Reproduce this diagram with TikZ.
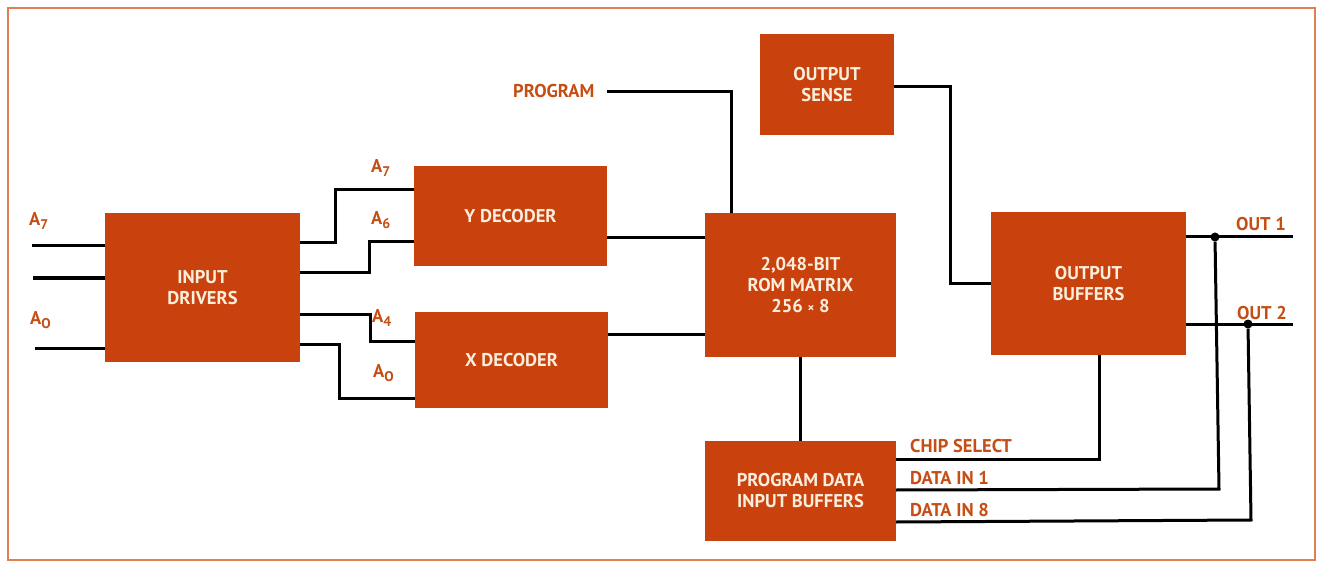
\documentclass[tikz,border=0pt]{standalone}
\usepackage{fontspec}
\setmainfont{PT Sans}
\definecolor{boxc}{RGB}{201,66,14}
\definecolor{labc}{RGB}{196,78,20}
\definecolor{framec}{RGB}{222,128,80}
\definecolor{txtc}{RGB}{252,238,220}
\newcommand{\mysub}[1]{\raisebox{-4pt}{\fontsize{14}{14}\selectfont #1}}
\tikzset{
  box/.style={fill=boxc, draw=none, text=txtc, font=\fontsize{18.5}{21}\selectfont\bfseries, align=center, inner sep=0pt},
  lab/.style={text=labc, font=\fontsize{18.5}{21}\selectfont\bfseries, inner sep=0pt, anchor=west},
  wire/.style={draw=black, line width=3pt, line join=miter},
  dot/.style={circle, fill=black, inner sep=0pt, minimum size=9pt}
}
\begin{document}
\begin{tikzpicture}[x=1pt,y=-1pt]
\useasboundingbox (0,0) rectangle (1323,564);
\draw[framec, line width=2pt] (8,8) rectangle (1315,560);

% boxes
\node[box, minimum width=195pt, minimum height=149pt] (drv) at (202.5,287.5) {INPUT\\DRIVERS};
\node[box, minimum width=193pt, minimum height=100pt] (yd) at (510.5,216) {Y DECODER};
\node[box, minimum width=193pt, minimum height=96pt] (xd) at (511.5,360) {X DECODER};
\node[box, minimum width=191pt, minimum height=144pt] (rom) at (800.5,285) {2,048-BIT\\ROM MATRIX\\256 {\fontsize{13}{13}\selectfont ×} 8};
\node[box, minimum width=134pt, minimum height=101pt] (os) at (827,84.5) {OUTPUT\\SENSE};
\node[box, minimum width=195pt, minimum height=143pt] (ob) at (1088.5,283.5) {OUTPUT\\BUFFERS};
\node[box, minimum width=191pt, minimum height=100pt] (pd) at (800.5,491) {PROGRAM DATA\\INPUT BUFFERS};

% helper coordinates
\coordinate (i1) at (32,246);
\coordinate (i2) at (33,278);
\coordinate (i3) at (35,348);
\coordinate (r1) at (0,243);
\coordinate (r2) at (0,273);
\coordinate (r3) at (0,314);
\coordinate (r4) at (0,344);
\coordinate (ya) at (0,190);
\coordinate (yb) at (0,242);
\coordinate (xa) at (0,341);
\coordinate (xb) at (0,398);
\coordinate (romy) at (0,238);
\coordinate (romx) at (0,334);
\coordinate (prg) at (607,92);
\coordinate (o1) at (1293,237);
\coordinate (o2) at (1293,324);
\coordinate (cs) at (0,459);
\coordinate (d1) at (0,490);
\coordinate (d8) at (0,522);

% inputs
\draw[wire] (i1) -- (i1 -| drv.west);
\draw[wire] (i2) -- (i2 -| drv.west);
\draw[wire] (i3) -- (i3 -| drv.west);

% driver to decoders
\draw[wire] (drv.east |- r1) -- (335,243) -- (335,190) -- (yd.west |- ya);
\draw[wire] (drv.east |- r2) -- (369,273) -- (369,242) -- (yd.west |- yb);
\draw[wire] (drv.east |- r3) -- (370,314) -- (370,341) -- (xd.west |- xa);
\draw[wire] (drv.east |- r4) -- (339,344) -- (339,398) -- (xd.west |- xb);

% decoders to ROM
\draw[wire] (yd.east |- romy) -- (rom.west |- romy);
\draw[wire] (xd.east |- romx) -- (rom.west |- romx);

% program
\draw[wire] (prg) -- (731,92) -- (731,213) -- (rom.north -| 731,0);

% ROM to program data buffers
\draw[wire] (rom.south) -- (pd.north);

% output sense to output buffers
\draw[wire] (os.east |- 0,87) -- (950,87) -- (950,283) -- (ob.west |- 0,283);

% outputs
\draw[wire] (ob.east |- o1) -- (o1);
\draw[wire] (ob.east |- o2) -- (o2);
\node[dot] (n1) at (1215,237) {};
\node[dot] (n2) at (1248,324) {};

% chip select and data in
\draw[wire] (pd.east |- cs) -- (1099,459) -- (ob.south -| 1099,0);
\draw[wire] (pd.east |- d1) -- (1219,489) -- (n1);
\draw[wire] (pd.east |- d8) -- (1251,520) -- (n2);

% labels
\node[lab] (la7) at (29,221) {A\mysub{7}};
\node[lab] (la0) at (30,320) {A\mysub{O}};
\node[lab] (lya7) at (371,168) {A\mysub{7}};
\node[lab] (lya6) at (371,220) {A\mysub{6}};
\node[lab] (lxa4) at (372,318) {A\mysub{4}};
\node[lab] (lxa0) at (373,373) {A\mysub{O}};
\node[lab] (lprg) at (513,91) {PROGRAM};
\node[lab] (lo1) at (1236,224) {OUT 1};
\node[lab] (lo2) at (1237,313) {OUT 2};
\node[lab] (lcs) at (910,446) {CHIP SELECT};
\node[lab] (ld1) at (910,478) {DATA IN 1};
\node[lab] (ld8) at (910,510) {DATA IN 8};
\end{tikzpicture}
\end{document}
